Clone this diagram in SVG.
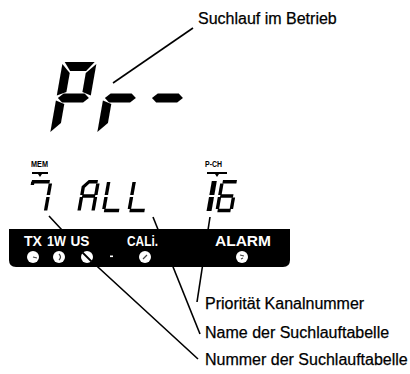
<svg xmlns="http://www.w3.org/2000/svg" width="410" height="374" viewBox="0 0 410 374">
<style>
.seg{fill:#000}
.thin{stroke:#000;stroke-width:3.4;fill:none;stroke-linecap:butt}
.lead{stroke:#000;stroke-width:1.6;fill:none}
.lbl{font-family:"Liberation Sans",Arial,sans-serif;font-size:16px;fill:#000;stroke:#000;stroke-width:0.25}
.bt{font-family:"Liberation Sans",Arial,sans-serif;font-size:15.5px;font-weight:bold;fill:#fff}
.sm{font-family:"Liberation Sans",Arial,sans-serif;font-size:9px;font-weight:bold;fill:#000}
.led{fill:#fff}
.mk{stroke:#444;stroke-width:1.2;fill:none}
</style>
<defs>
<polygon id="bA" points="2,0 32,0 25,9 9,9"/>
<polygon id="bF" points="0,2 9,11 9,30 0,33.5"/>
<polygon id="bB" points="34,2 34,33.5 25,30 25,11"/>
<polygon id="bG" points="1.5,36 6.5,31.5 27.5,31.5 32.5,36 27.5,40.5 6.5,40.5"/>
<polygon id="bE" points="0,38.5 9,42 9,61 0,70"/>
</defs>

<g id="big-display" class="seg">
  <g id="digit-P" transform="translate(62.7,62) skewX(-10)">
    <use href="#bA"/><use href="#bF"/><use href="#bB"/><use href="#bG"/><use href="#bE"/>
  </g>
  <g id="digit-r" transform="translate(109.7,62) skewX(-10)">
    <use href="#bG"/><use href="#bE"/>
  </g>
  <g id="digit-dash" transform="translate(156.8,62) skewX(-10)">
    <use href="#bG"/>
  </g>
</g>

<g id="small-display">
  <g id="mem-label">
    <text class="sm" x="31" y="167" textLength="17" lengthAdjust="spacingAndGlyphs">MEM</text>
    <path class="seg" d="M32,172 H48 V174 H42 L40,177 L38,174 H32 Z"/>
  </g>
  <g id="pch-label">
    <text class="sm" x="205" y="167" textLength="17" lengthAdjust="spacingAndGlyphs">P-CH</text>
    <path class="seg" d="M207,172 H227 V174 H219 L217,177 L215,174 H207 Z"/>
  </g>
  <g id="char-7" class="thin" transform="translate(32,180) skewX(-10)">
    <line x1="0" y1="1.7" x2="18" y2="1.7"/>
    <line x1="1.2" y1="1.7" x2="1.2" y2="5"/>
    <line x1="19" y1="3.5" x2="19" y2="15"/>
    <line x1="19" y1="17" x2="19" y2="30.5"/>
  </g>
  <g id="char-A" class="thin" transform="translate(83,180) skewX(-10)">
    <path d="M1.5,15 V7 L6.5,1.7 H15"/>
    <line x1="15.5" y1="3.5" x2="15.5" y2="15"/>
    <line x1="2" y1="16" x2="15" y2="16"/>
    <line x1="15.5" y1="17" x2="15.5" y2="30.5"/>
    <line x1="1.5" y1="17" x2="1.5" y2="30.5"/>
  </g>
  <g id="char-L1" class="thin" transform="translate(107.5,180) skewX(-10)">
    <line x1="1.5" y1="2" x2="1.5" y2="15"/>
    <line x1="1.5" y1="17" x2="1.5" y2="29"/>
    <line x1="2" y1="30.5" x2="17" y2="30.5"/>
  </g>
  <g id="char-L2" class="thin" transform="translate(133,180) skewX(-10)">
    <line x1="1.5" y1="2" x2="1.5" y2="15"/>
    <line x1="1.5" y1="17" x2="1.5" y2="29"/>
    <line x1="2" y1="30.5" x2="17" y2="30.5"/>
  </g>
  <g id="char-1" class="thin" transform="translate(212,180) skewX(-10)" style="stroke-width:5">
    <line x1="2.5" y1="1" x2="2.5" y2="15"/>
    <line x1="2.5" y1="17" x2="2.5" y2="31"/>
  </g>
  <g id="char-6" class="thin" transform="translate(221,180) skewX(-10)">
    <line x1="2" y1="1.7" x2="16" y2="1.7"/>
    <line x1="1.5" y1="3.5" x2="1.5" y2="15"/>
    <line x1="2" y1="16" x2="15" y2="16"/>
    <line x1="1.5" y1="17" x2="1.5" y2="29"/>
    <line x1="15.5" y1="17.5" x2="15.5" y2="29"/>
    <line x1="2" y1="30.5" x2="15" y2="30.5"/>
  </g>
</g>

<g id="connectors" class="lead">
  <line x1="113" y1="83" x2="193" y2="28"/>
  <polyline points="49,216 87,257 198,359"/>
  <line x1="153" y1="217" x2="200" y2="334"/>
  <line x1="210" y1="217" x2="197" y2="302"/>
</g>

<g id="status-bar">
  <path d="M9,229 H290 V260 Q290,267 283,267 H16 Q9,267 9,260 Z" fill="#000"/>
  <text class="bt" x="24" y="246" textLength="18" lengthAdjust="spacingAndGlyphs">TX</text>
  <text class="bt" x="47" y="246" textLength="19" lengthAdjust="spacingAndGlyphs">1W</text>
  <text class="bt" x="70.5" y="246" textLength="19" lengthAdjust="spacingAndGlyphs">US</text>
  <text class="bt" x="127" y="246" textLength="31" lengthAdjust="spacingAndGlyphs">CALi.</text>
  <text class="bt" x="215" y="246" textLength="56" lengthAdjust="spacingAndGlyphs">ALARM</text>
  <circle class="led" cx="33" cy="257" r="6"/>
  <circle class="led" cx="59" cy="257" r="6"/>
  <circle class="led" cx="87" cy="257" r="6"/>
  <circle class="led" cx="145" cy="257" r="6"/>
  <circle class="led" cx="242" cy="257" r="6"/>
  <rect class="led" x="110" y="255.5" width="3" height="1.6"/>
  <path class="mk" d="M33,257 L37,258 M59,254 Q62,257 59,260 M143,259 L147,255 M240,255 L244,256 M241,259 L243,258"/>
  <path d="M82.5,252.5 L91.5,261.5" stroke="#000" stroke-width="1.8"/>
</g>

<g id="labels">
  <text class="lbl" x="198" y="24">Suchlauf im Betrieb</text>
  <text class="lbl" x="205" y="309">Priorität Kanalnummer</text>
  <text class="lbl" x="205" y="338">Name der Suchlauftabelle</text>
  <text class="lbl" x="205" y="365">Nummer der Suchlauftabelle</text>
</g>
</svg>
